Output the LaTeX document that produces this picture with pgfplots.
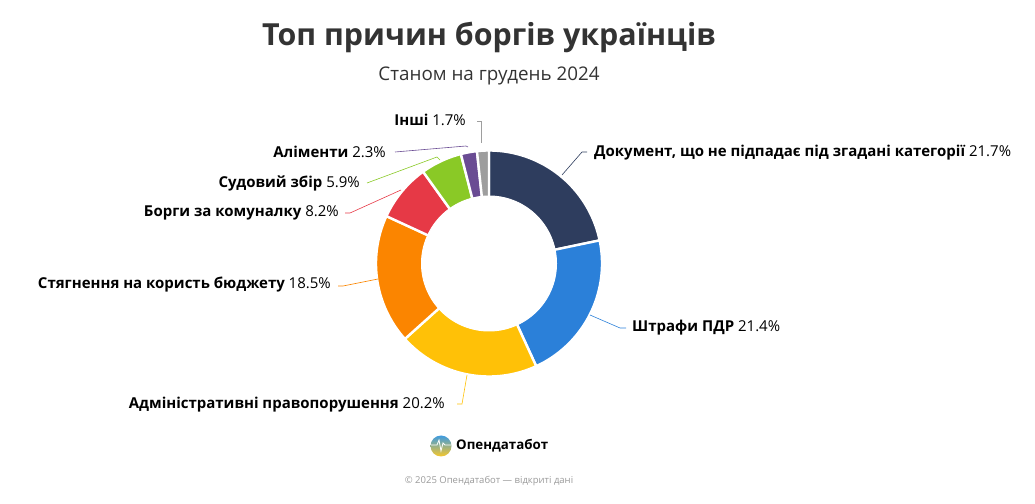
\documentclass[border=0pt]{standalone}
\usepackage{pgfplots}
\pgfplotsset{compat=1.18}
\usepackage{pgfplotstable}
\usepackage{fontspec}
\setmainfont{Open Sans}
\definecolor{cDoc}{HTML}{2E3D5E}
\definecolor{cPdr}{HTML}{2B80D9}
\definecolor{cAdm}{HTML}{FFC107}
\definecolor{cBud}{HTML}{FB8500}
\definecolor{cKom}{HTML}{E63946}
\definecolor{cSud}{HTML}{8AC926}
\definecolor{cAli}{HTML}{6A4C93}
\definecolor{cOth}{HTML}{9E9E9E}
\definecolor{cTitle}{HTML}{333333}
\definecolor{cFoot}{HTML}{9A9A9A}
\definecolor{cLogoB}{HTML}{3E9BE0}
\definecolor{cLogoY}{HTML}{F7C72A}
\newcommand\lab[2]{{\bfseries #1} #2}

\pgfplotstableread{
pct col
21.7 cDoc
21.4 cPdr
20.2 cAdm
18.5 cBud
8.2 cKom
5.9 cSud
2.3 cAli
1.7 cOth
}\donutdata

\begin{document}
\begin{tikzpicture}
\useasboundingbox (0,0) rectangle (1035pt,503pt);
\begin{axis}[at={(0,0)},anchor=south west,width=1035pt,height=503pt,scale only axis,
  xmin=0,xmax=1035,ymin=0,ymax=503,hide axis,clip=false]
\def\cumsum{0}
\pgfplotsinvokeforeach{0,...,7}{
  \pgfplotstablegetelem{#1}{pct}\of\donutdata \let\slicePct\pgfplotsretval
  \pgfplotstablegetelem{#1}{col}\of\donutdata \let\sliceCol\pgfplotsretval
  \pgfmathsetmacro\angStart{90-\cumsum/99.9*360}
  \pgfmathsetmacro\cumsum{\cumsum+\slicePct}
  \pgfmathsetmacro\angEnd{90-\cumsum/99.9*360}
  \edef\tmpplot{\noexpand\addplot[fill=\sliceCol,draw=white,line width=2.4pt,line join=round,domain=\angEnd:\angStart,samples=90]
     ({489+113*cos(x)},{239.5+113*sin(x)}) -- (axis cs:489,239.5) -- cycle;}
  \tmpplot
}
\addplot[fill=white,draw=white,line width=1pt,domain=0:360,samples=140] ({489+67.5*cos(x)},{239.5+67.5*sin(x)}) -- cycle;

% leader lines
\draw[cDoc,line width=0.6pt] (axis cs:562,328) -- (axis cs:582,351) -- (axis cs:587,351);
\draw[cPdr,line width=0.6pt] (axis cs:590,188) -- (axis cs:620,175) -- (axis cs:626,175);
\draw[cAdm,line width=0.6pt] (axis cs:467,128) -- (axis cs:462,99) -- (axis cs:457,99);
\draw[cBud,line width=0.6pt] (axis cs:378,224) -- (axis cs:343,217) -- (axis cs:338,217);
\draw[cKom,line width=0.6pt] (axis cs:401,313) -- (axis cs:350,290) -- (axis cs:345,290);
\draw[cSud,line width=0.6pt] (axis cs:440,343) -- (axis cs:437,346) -- (axis cs:367,320);
\draw[cAli,line width=0.6pt] (axis cs:468,356) -- (axis cs:466,357) -- (axis cs:395,351);
\draw[cOth,line width=0.6pt] (axis cs:481,360) -- (axis cs:481,382) -- (axis cs:477,382);

% labels
\node[anchor=west,inner sep=0pt,font=\fontsize{15}{18}\selectfont] at (axis cs:594,350) {\lab{Документ, що не підпадає під згадані категорії}{21.7\%}};
\node[anchor=west,inner sep=0pt,font=\fontsize{15}{18}\selectfont] at (axis cs:632,175) {\lab{Штрафи ПДР}{21.4\%}};
\node[anchor=east,inner sep=0pt,font=\fontsize{15}{18}\selectfont] at (axis cs:445,98) {\lab{Адміністративні правопорушення}{20.2\%}};
\node[anchor=east,inner sep=0pt,font=\fontsize{15}{18}\selectfont] at (axis cs:331,218) {\lab{Стягнення на користь бюджету}{18.5\%}};
\node[anchor=east,inner sep=0pt,font=\fontsize{15}{18}\selectfont] at (axis cs:339,290) {\lab{Борги за комуналку}{8.2\%}};
\node[anchor=east,inner sep=0pt,font=\fontsize{15}{18}\selectfont] at (axis cs:360,320) {\lab{Судовий збір}{5.9\%}};
\node[anchor=east,inner sep=0pt,font=\fontsize{15}{18}\selectfont] at (axis cs:386,351) {\lab{Аліменти}{2.3\%}};
\node[anchor=east,inner sep=0pt,font=\fontsize{15}{18}\selectfont] at (axis cs:466,383) {\lab{Інші}{1.7\%}};

% title
\node[text=cTitle,inner sep=0pt,font=\fontsize{30.4}{36}\selectfont\bfseries] at (axis cs:489,466) {Топ причин боргів українців};
\node[text=cTitle,inner sep=0pt,font=\fontsize{18.8}{22}\selectfont] at (axis cs:489,427) {Станом на грудень 2024};

% logo
\shade[top color=cLogoB,bottom color=cLogoY] (axis cs:441,57) circle[radius=10.5pt];
\draw[white,line width=0.8pt] (axis cs:431,58) -- (axis cs:437,58) -- (axis cs:439,63) -- (axis cs:441,52) -- (axis cs:443,60) -- (axis cs:445,58) -- (axis cs:451,58);
\node[anchor=west,inner sep=0pt,font=\fontsize{13.3}{16}\selectfont\bfseries] at (axis cs:456,57) {Опендатабот};
\node[text=cFoot,inner sep=0pt,font=\fontsize{9.5}{11}\selectfont] at (axis cs:489,22) {© 2025 Опендатабот — відкриті дані};
\end{axis}
\end{tikzpicture}
\end{document}
